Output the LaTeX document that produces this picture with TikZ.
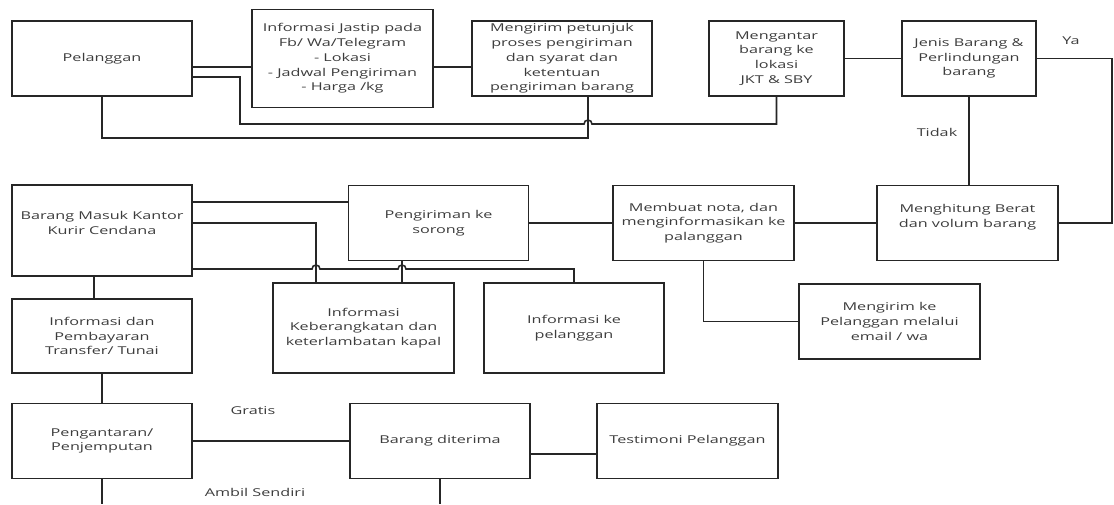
\documentclass[tikz,border=0pt]{standalone}
\usepackage{fontspec}
\setmainfont{Open Sans}[FakeStretch=1.5]
\usetikzlibrary{positioning}
\definecolor{garis}  {HTML}{262626}
\definecolor{tulisan}{HTML}{3C3C3C}

\begin{document}
\begin{tikzpicture}[x=1pt, y=-1pt, line width=1.6pt, color=garis,
    font=\fontsize{10.8pt}{14.7pt}\selectfont,
    kotak/.style={draw=garis, text=tulisan, align=center, inner xsep=2pt, inner ysep=0pt,
      outer sep=0pt, minimum width=180pt, minimum height=75pt},
    ket/.style={text=tulisan, inner sep=0pt}]
  \useasboundingbox (0,0) rectangle (1114,504);

  % baris atas
  \node[kotak] (pel) at (102,58.5) {Pelanggan};
  \node[kotak, minimum width=181pt, minimum height=98pt, right=60pt of pel] (jastip)
    {Informasi Jastip pada\\Fb/ Wa/Telegram\\- Lokasi\\- Jadwal Pengiriman\\- Harga /kg};
  \node[kotak, right=39pt of jastip] (petunjuk)
    {Mengirim petunjuk\\proses pengiriman\\dan syarat dan\\ketentuan\\pengiriman barang};
  \node[kotak, minimum width=135pt, right=57pt of petunjuk] (antar)
    {Mengantar\\barang ke\\lokasi\\JKT \& SBY};
  \node[kotak, minimum width=134pt, right=58pt of antar] (jenis)
    {Jenis Barang \&\\Perlindungan\\barang};

  % baris kedua
  \node[kotak, minimum height=91pt] (masuk) at (102,230.5) {Barang Masuk Kantor\\Kurir Cendana\\\mbox{}};
  \node[kotak] (pengiriman) at (438.5,223) {Pengiriman ke\\sorong};
  \node[kotak, minimum width=181pt] (nota) at (703.5,223) {Membuat nota, dan\\menginformasikan ke\\palanggan};
  \node[kotak, minimum width=181pt] (hitung) at (967.5,223) {Menghitung Berat\\dan volum barang\\\mbox{}};

  % baris ketiga
  \node[kotak, minimum height=74pt] (bayar) at (102,336) {Informasi dan\\Pembayaran\\Transfer/ Tunai};
  \node[kotak, minimum width=181pt, minimum height=90pt] (kapal) at (363.5,328)
    {Informasi\\Keberangkatan dan\\keterlambatan kapal};
  \node[kotak, minimum height=90pt] (infopel) at (574,328) {Informasi ke\\pelanggan};
  \node[kotak, minimum width=181pt] (email) at (889.5,321.5) {Mengirim ke\\Pelanggan melalui\\email / wa};

  % baris bawah
  \node[kotak] (antarjemput) at (102,441) {Pengantaran/\\Penjemputan};
  \node[kotak] (diterima) at (440,441) {Barang diterima};
  \node[kotak, minimum width=181pt] (testimoni) at (687.5,441) {Testimoni Pelanggan};

  \node[ket] (ya) at (1071,41) {Ya};
  \node[ket] (tidak) at (937,132) {Tidak};
  \node[ket] (gratis) at (253,411) {Gratis};
  \node[ket] (ambil) at (255,492) {Ambil Sendiri};

  \coordinate (ujungkiri) at (102,504);
  \coordinate (ujungtengah) at (440,504);

  % garis penghubung
  \draw (pel.east |- 0,67) -- (jastip.west |- 0,67);
  \draw (jastip.east |- 0,67) -- (petunjuk.west |- 0,67);
  \draw (pel.east |- 0,77) -| (240,124) -- (584,124)
    arc[start angle=180, end angle=0, radius=4pt] -| (antar.south);
  \draw (pel.south) |- (588,138) -- (petunjuk.south -| 588,0);
  \draw (antar.east) -- (jenis.west);
  \draw (jenis.east) -- (jenis.east -| 1112,0) |- (hitung.east);
  \draw (jenis.south) -- (jenis.south |- hitung.north);
  \draw (hitung.west) -- (nota.east);
  \draw (pengiriman.east) -- (nota.west);
  \draw (nota.south) |- (email.west);
  \draw (masuk.east |- 0,202) -- (pengiriman.west |- 0,202);
  \draw (masuk.east |- 0,223) -| (kapal.north -| 316,0);
  \draw (masuk.east |- 0,269) -- (312,269)
    arc[start angle=180, end angle=0, radius=4pt] -- (398,269)
    arc[start angle=180, end angle=0, radius=4pt] -| (infopel.north);
  \draw (pengiriman.south -| 402,0) -- (kapal.north -| 402,0);
  \draw (masuk.south -| 94,0) -- (bayar.north -| 94,0);
  \draw (bayar.south) -- (antarjemput.north);
  \draw (antarjemput.east) -- (diterima.west);
  \draw (diterima.east |- 0,454) -- (testimoni.west |- 0,454);
  \draw (antarjemput.south) -- (ujungkiri);
  \draw (diterima.south) -- (ujungtengah);
\end{tikzpicture}
\end{document}
